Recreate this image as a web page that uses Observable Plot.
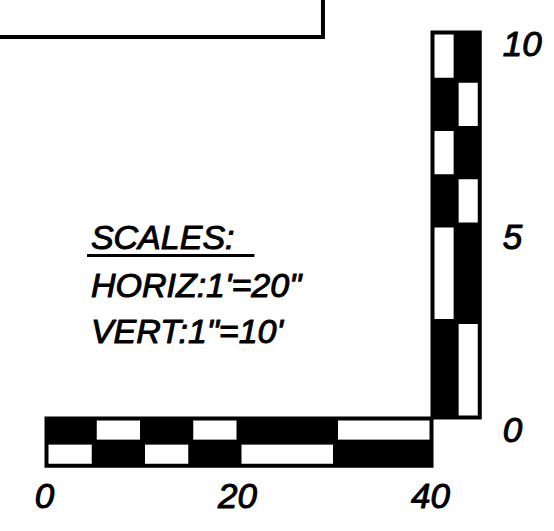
<!DOCTYPE html>
<html>
<head>
<meta charset="utf-8">
<script src="https://cdn.jsdelivr.net/npm/d3@7"></script>
<script src="https://cdn.jsdelivr.net/npm/@observablehq/plot@0.6"></script>
<style>
  html, body { margin: 0; padding: 0; background: #fff; }
  #chart svg { display: block; }
</style>
</head>
<body>
<div id="chart"></div>
<script>
// Horizontal scale bar: 0–40 (ft), divisions
const hBreaks = [0, 5, 10, 15, 20, 30, 40];
// Vertical scale bar: 0–10 (ft), divisions
const vBreaks = [0, 2.5, 5, 6.25, 7.5, 8.75, 10];
// Tick labels
const hLabels = [0, 20, 40];
const vLabels = [0, 5, 10];
// Bar thickness (in the other axis' units)
const hBarDepth = 1.25; // horizontal bar, in vertical units
const vBarDepth = 5;    // vertical bar, in horizontal units
// Notes text
const notes = ["SCALES:", "HORIZ:1'=20\"", "VERT:1\"=10'"];
// Title-block border corner (drawing frame above)
const titleBlock = [{x1: -10, x2: 28.7, y1: 9.87, y2: 13}];

const font = "'Liberation Sans', Arial, sans-serif";

const hMax = hBreaks[hBreaks.length - 1];
const vMax = vBreaks[vBreaks.length - 1];

// Build cells
const hCells = [];
for (let i = 0; i < hBreaks.length - 1; i++) {
  hCells.push({x1: hBreaks[i], x2: hBreaks[i+1], y1: -hBarDepth/2, y2: 0, white: i % 2 === 1});
  hCells.push({x1: hBreaks[i], x2: hBreaks[i+1], y1: -hBarDepth, y2: -hBarDepth/2, white: i % 2 === 0});
}
const vCells = [];
for (let i = 0; i < vBreaks.length - 1; i++) {
  vCells.push({x1: hMax, x2: hMax + vBarDepth/2, y1: vBreaks[i], y2: vBreaks[i+1], white: i % 2 === 1});
  vCells.push({x1: hMax + vBarDepth/2, x2: hMax + vBarDepth, y1: vBreaks[i], y2: vBreaks[i+1], white: i % 2 === 0});
}

const noteRows = notes.map((t, i) => ({t, x: 4.6, y: [4.4, 3.15, 1.95][i]}));

const textStyle = {fontStyle: "italic", fontFamily: font, fill: "black", stroke: "black", strokeWidth: 1};

const chart = Plot.plot({
  width: 554,
  height: 531,
  margin: 0,
  x: {domain: [0, hMax], range: [46, 432], axis: null},
  y: {domain: [0, vMax], range: [418, 32], axis: null},
  style: {background: "#fff", overflow: "visible"},
  marks: [
    Plot.rect(titleBlock, {x1: "x1", x2: "x2", y1: "y1", y2: "y2", fill: "none", stroke: "black", strokeWidth: 4}),
    Plot.rect([{x1: 0, x2: hMax, y1: -hBarDepth, y2: 0}], {x1: "x1", x2: "x2", y1: "y1", y2: "y2", fill: "black", stroke: "black", strokeWidth: 3}),
    Plot.rect([{x1: hMax, x2: hMax + vBarDepth, y1: 0, y2: vMax}], {x1: "x1", x2: "x2", y1: "y1", y2: "y2", fill: "black", stroke: "black", strokeWidth: 3}),
    Plot.rect(hCells.filter(d => d.white), {x1: "x1", x2: "x2", y1: "y1", y2: "y2", fill: "white", inset: 2.5}),
    Plot.rect(vCells.filter(d => d.white), {x1: "x1", x2: "x2", y1: "y1", y2: "y2", fill: "white", inset: 2.5}),
    Plot.text(hLabels, {x: d => d, y: -hBarDepth, text: d => String(d), dy: 30, dx: -2, fontSize: 35, lineAnchor: "middle", ...textStyle}),
    Plot.text(vLabels, {x: hMax + vBarDepth, y: d => d, text: d => String(d), dx: 22, dy: 12, fontSize: 35, textAnchor: "start", ...textStyle}),
    Plot.text(noteRows, {x: "x", y: "y", text: "t", fontSize: 34, textAnchor: "start", lineAnchor: "bottom", ...textStyle}),
    Plot.ruleY([4.22], {x1: 4.25, x2: 21.6, stroke: "black", strokeWidth: 3})
  ]
});
document.getElementById("chart").appendChild(chart);
</script>
</body>
</html>
